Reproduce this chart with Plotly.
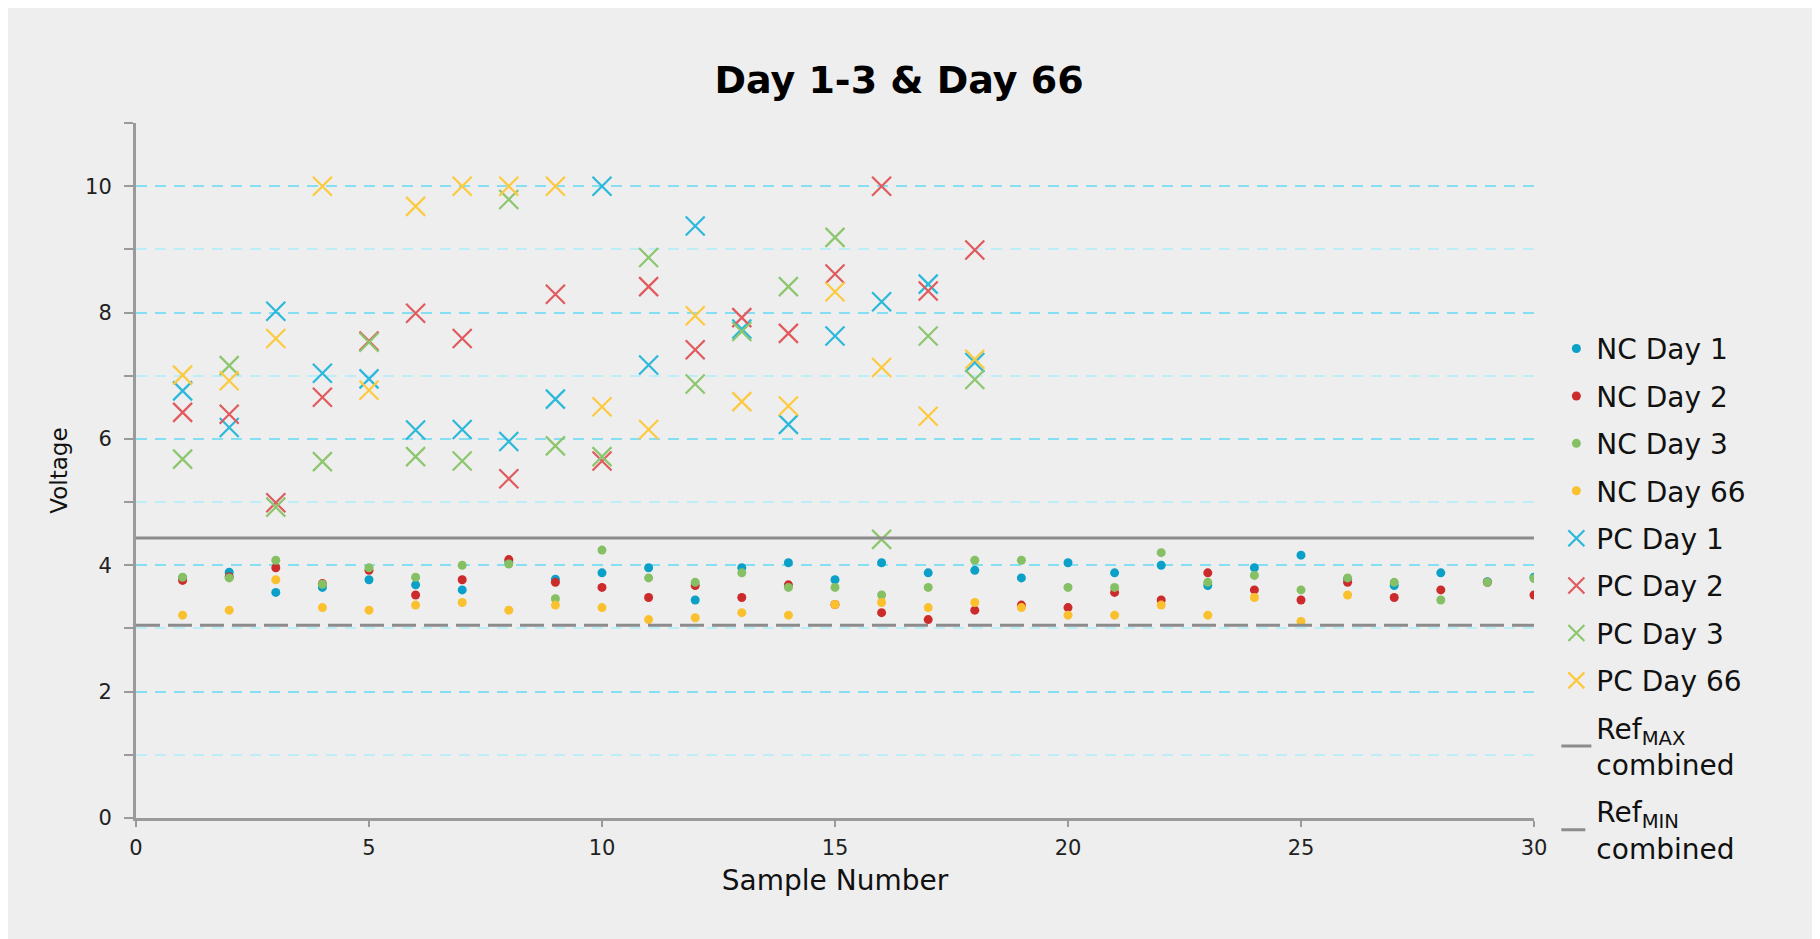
import plotly.graph_objects as go

# ---------------- data ----------------
samples_nc = list(range(1, 31))
samples_nc66 = list(range(1, 27))
samples_pc = list(range(1, 19))

nc_day1 = [3.80, 3.89, 3.57, 3.65, 3.77, 3.69, 3.61, 4.05, 3.78, 3.88,
           3.96, 3.45, 3.96, 4.04, 3.77, 4.04, 3.88, 3.92, 3.80, 4.04,
           3.88, 4.00, 3.68, 3.96, 4.16, 3.78, 3.68, 3.88, 3.74, 3.81]
nc_day2 = [3.76, 3.82, 3.96, 3.71, 3.92, 3.53, 3.77, 4.09, 3.73, 3.65,
           3.49, 3.68, 3.49, 3.69, 3.38, 3.25, 3.14, 3.29, 3.37, 3.33,
           3.57, 3.45, 3.88, 3.61, 3.45, 3.73, 3.49, 3.61, 3.73, 3.53]
nc_day3 = [3.81, 3.80, 4.08, 3.70, 3.96, 3.81, 4.00, 4.02, 3.47, 4.24,
           3.80, 3.73, 3.88, 3.65, 3.65, 3.53, 3.65, 4.08, 4.08, 3.65,
           3.65, 4.20, 3.73, 3.84, 3.61, 3.80, 3.73, 3.45, 3.73, 3.79]
nc_day66 = [3.21, 3.29, 3.77, 3.33, 3.29, 3.37, 3.41, 3.29, 3.37, 3.33,
            3.14, 3.17, 3.25, 3.21, 3.38, 3.41, 3.33, 3.41, 3.33, 3.21,
            3.21, 3.37, 3.21, 3.49, 3.11, 3.53]

pc_day1 = [6.76, 6.18, 8.02, 7.04, 6.95, 6.14, 6.15, 5.96, 6.63, 10.0,
           7.17, 9.37, 7.74, 6.23, 7.63, 8.17, 8.45, 7.21]
pc_day2 = [6.42, 6.39, 4.99, 6.66, 7.55, 7.99, 7.59, 5.37, 8.29, 5.65,
           8.41, 7.41, 7.92, 7.67, 8.61, 10.0, 8.34, 8.99]
pc_day3 = [5.68, 7.16, 4.92, 5.64, 7.53, 5.72, 5.65, 9.79, 5.89, 5.72,
           8.87, 6.87, 7.70, 8.41, 9.19, 4.41, 7.63, 6.94]
pc_day66 = [7.01, 6.92, 7.59, 10.0, 6.77, 9.68, 10.0, 10.0, 10.0, 6.51,
            6.15, 7.95, 6.59, 6.52, 8.33, 7.13, 6.36, 7.26]

ref_x = [0, 30]
ref_max = 4.43
ref_min = 3.05

title_text = "Day 1-3 & Day 66"
x_title = "Sample Number"
y_title = "Voltage"

# ---------------- styles ----------------
FONT = "DejaVu Sans"
nc_colors = ["#0aa0c8", "#cc2b2b", "#86c064", "#fbc02d"]
pc_colors = ["#2bb8da", "#e05a5e", "#8cc66e", "#fdc93e"]

fig = go.Figure()

nc_series = [("NC Day 1", samples_nc, nc_day1), ("NC Day 2", samples_nc, nc_day2),
             ("NC Day 3", samples_nc, nc_day3), ("NC Day 66", samples_nc66, nc_day66)]
pc_series = [("PC Day 1", pc_day1), ("PC Day 2", pc_day2),
             ("PC Day 3", pc_day3), ("PC Day 66", pc_day66)]

for i, (name, xs, ys) in enumerate(nc_series):
    fig.add_trace(go.Scatter(
        x=xs, y=ys, mode="markers", name=name, legendgroup=name,
        marker=dict(symbol="circle", size=9, color=nc_colors[i]),
    ))

for i, (name, ys) in enumerate(pc_series):
    fig.add_trace(go.Scatter(
        x=samples_pc, y=ys, mode="markers", name=name, legendgroup=name,
        marker=dict(symbol="x-thin", size=19, color=pc_colors[i],
                    line=dict(color=pc_colors[i], width=2.2)),
    ))

fig.add_trace(go.Scatter(
    x=ref_x, y=[ref_max, ref_max], mode="lines",
    name="Ref<sub>MAX</sub><br>combined", legendgroup="refmax",
    line=dict(color="#8c8c8c", width=3),
))
fig.add_trace(go.Scatter(
    x=ref_x, y=[ref_min, ref_min], mode="lines",
    name="Ref<sub>MIN</sub><br>combined", legendgroup="refmin",
    line=dict(color="#8c8c8c", width=3, dash="24px,8px"),
))

fig.update_layout(
    width=1820, height=939,
    paper_bgcolor="#eeeeee", plot_bgcolor="#eeeeee",
    margin=dict(l=128, r=294, t=115, b=129),
    font=dict(family=FONT, color="#222222", size=21),
    title=dict(text=title_text, x=891 / 1820, xref="container", xanchor="center",
               y=1 - 72 / 939, yref="container", yanchor="middle",
               font=dict(family=FONT, size=38, color="#000000", weight="bold")),
    legend=dict(x=1.016, xanchor="left", y=0.711, yanchor="top",
                bgcolor="rgba(0,0,0,0)", font=dict(family=FONT, size=28, color="#111111"),
                traceorder="grouped", tracegroupgap=8, itemwidth=30),
    showlegend=True,
)

fig.update_xaxes(
    range=[0, 30], dtick=5, tick0=0,
    showgrid=False, zeroline=False,
    showline=True, linecolor="#9a9a9a", linewidth=3,
    ticks="outside", ticklen=6, tickwidth=2, tickcolor="#9a9a9a",
    ticklabelstandoff=3,
    tickfont=dict(family=FONT, size=21, color="#222222"),
    title=dict(text=x_title, standoff=12, font=dict(family=FONT, size=28, color="#111111")),
)

fig.update_yaxes(
    range=[0, 11], dtick=2, tick0=0,
    showgrid=True, gridcolor="#86def2", gridwidth=2, griddash="11px,8px",
    zeroline=False,
    showline=True, linecolor="#9a9a9a", linewidth=3,
    ticks="outside", ticklen=9, tickwidth=2, tickcolor="#9a9a9a",
    ticklabelstandoff=8,
    tickfont=dict(family=FONT, size=21, color="#222222"),
    minor=dict(dtick=1, tick0=0, showgrid=True, gridcolor="#bdeef8", gridwidth=1.5,
               griddash="11px,8px", ticks="outside", ticklen=9, tickcolor="#9a9a9a"),
    title=dict(text=y_title, standoff=12, font=dict(family=FONT, size=23, color="#111111")),
)

fig.write_html("out.html")
